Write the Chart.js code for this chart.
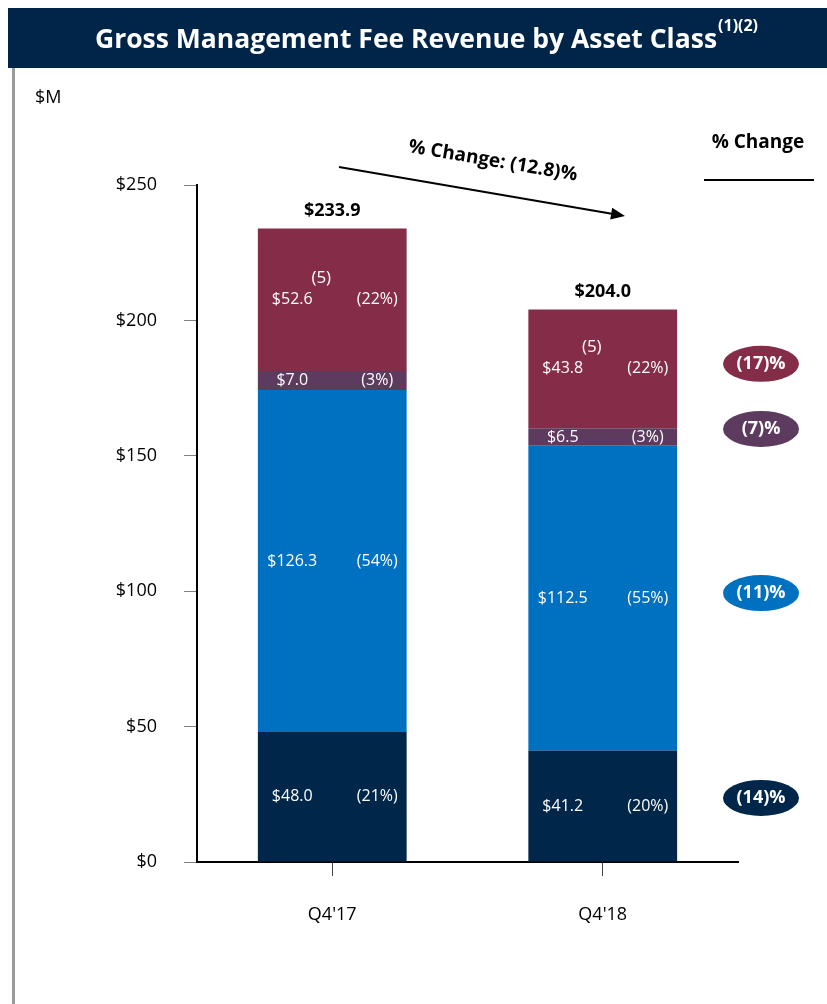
<!DOCTYPE html>
<html>
<head>
<meta charset="utf-8">
<script src="https://cdn.jsdelivr.net/npm/chart.js@4.4.0/dist/chart.umd.min.js"></script>
<style>
  html, body { margin: 0; padding: 0; background: #fff; }
  canvas { display: block; }
</style>
</head>
<body>
<canvas id="feeChart" width="827" height="1004"></canvas>
<script>
// Chart values
const categories = ["Q4'17", "Q4'18"];
const classA = [48.0, 41.2];     // bottom, navy
const classB = [126.3, 112.5];   // blue
const classC = [7.0, 6.5];       // purple
const classD = [52.6, 43.8];     // top, maroon
const sharesA = ['(21%)', '(20%)'];
const sharesB = ['(54%)', '(55%)'];
const sharesC = ['(3%)', '(3%)'];
const sharesD = ['(22%)', '(22%)'];
const totals = [233.9, 204.0];
const changes = ['(14)%', '(11)%', '(7)%', '(17)%'];
const totalChange = '% Change: (12.8)%';
const yTicks = [0, 50, 100, 150, 200, 250];

const colors = ['#00264a', '#0070c0', '#5c3b5f', '#852d48'];
const FONT = '"Open Sans", "DejaVu Sans", sans-serif';

const seriesData = [classA, classB, classC, classD];
const seriesShares = [sharesA, sharesB, sharesC, sharesD];

// everything drawn around the bars
const decorations = {
    id: 'decorations',
    beforeDraw(chart) {
        const c = chart.ctx;
        c.save();
        // title bar
        c.fillStyle = '#002548';
        c.fillRect(8, 8, 819, 60);
        c.fillStyle = '#fff';
        c.textBaseline = 'alphabetic';
        const main = 'Gross Management Fee Revenue by Asset Class';
        c.font = 'bold 26.5px ' + FONT;
        const w1 = c.measureText(main).width;
        c.font = 'bold 16px ' + FONT;
        const w2 = c.measureText('(1)(2)').width;
        const startX = 426 - (w1 + w2) / 2;
        c.font = 'bold 26.5px ' + FONT;
        c.textAlign = 'left';
        c.fillText(main, startX, 48);
        c.font = 'bold 16px ' + FONT;
        c.fillText('(1)(2)', startX + w1 + 1, 31);

        // left border
        c.fillStyle = '#9a9a9a';
        c.fillRect(12, 68, 3, 936);

        // $M
        c.fillStyle = '#000';
        c.font = '18px ' + FONT;
        c.textBaseline = 'middle';
        c.fillText('$M', 35, 98);

        // % Change header
        c.font = 'bold 19px ' + FONT;
        c.textAlign = 'center';
        c.fillText('% Change', 758, 143);
        c.fillRect(704, 179, 110, 2);
        c.restore();
    },
    afterDatasetsDraw(chart) {
        const c = chart.ctx;
        c.save();
        c.textBaseline = 'middle';
        c.textAlign = 'center';

        // segment labels
        chart.data.datasets.forEach((ds, di) => {
            const meta = chart.getDatasetMeta(di);
            meta.data.forEach((bar, i) => {
                const cy = (bar.y + bar.base) / 2;
                c.fillStyle = '#fff';
                c.font = '16px ' + FONT;
                c.fillText('$' + seriesData[di][i].toFixed(1), bar.x - 40, cy);
                c.fillText(seriesShares[di][i], bar.x + 45, cy);
                if (di === 3) {
                    c.font = '17px ' + FONT;
                    c.fillText('(5)', bar.x - 11, cy - 22);
                }
            });
        });

        // totals above bars
        const topMeta = chart.getDatasetMeta(3);
        c.fillStyle = '#000';
        c.font = 'bold 18px ' + FONT;
        topMeta.data.forEach((bar, i) => {
            c.fillText('$' + totals[i].toFixed(1), bar.x, bar.y - 18);
        });

        // change ovals, next to the last bar
        const ovalShift = [-8, -5, -8, -5];
        chart.data.datasets.forEach((ds, di) => {
            const bar = chart.getDatasetMeta(di).data[1];
            const cy = (bar.y + bar.base) / 2 + ovalShift[di];
            c.fillStyle = colors[di];
            c.beginPath();
            c.ellipse(761, cy, 38, 18, 0, 0, Math.PI * 2);
            c.fill();
            c.fillStyle = '#fff';
            c.font = 'bold 18px ' + FONT;
            c.fillText(changes[di], 761, cy);
        });

        // arrow with total change
        const x1 = 339, y1 = 167, x2 = 625, y2 = 216;
        const ang = Math.atan2(y2 - y1, x2 - x1);
        c.strokeStyle = '#000';
        c.lineWidth = 2;
        c.beginPath();
        c.moveTo(x1, y1);
        c.lineTo(x2 - 12 * Math.cos(ang), y2 - 12 * Math.sin(ang));
        c.stroke();
        c.fillStyle = '#000';
        c.beginPath();
        c.moveTo(x2, y2);
        c.lineTo(x2 - 14 * Math.cos(ang) + 6 * Math.sin(ang), y2 - 14 * Math.sin(ang) - 6 * Math.cos(ang));
        c.lineTo(x2 - 14 * Math.cos(ang) - 6 * Math.sin(ang), y2 - 14 * Math.sin(ang) + 6 * Math.cos(ang));
        c.closePath();
        c.fill();
        c.translate(493, 161);
        c.rotate(ang);
        c.font = 'bold 19px ' + FONT;
        c.fillText(totalChange, 0, 0);
        c.restore();
    }
};

const ctx = document.getElementById('feeChart').getContext('2d');
const chart = new Chart(ctx, {
    type: 'bar',
    data: {
        labels: categories,
        datasets: seriesData.map((d, i) => ({
            label: 'Asset class ' + (i + 1),
            data: d,
            backgroundColor: colors[i],
            borderWidth: 0,
            barPercentage: 0.55,
            categoryPercentage: 1.0
        }))
    },
    options: {
        responsive: false,
        animation: false,
        layout: { padding: { top: 185, right: 89, left: 0, bottom: 0 } },
        plugins: {
            legend: { display: false },
            tooltip: { enabled: false }
        },
        scales: {
            x: {
                stacked: true,
                afterFit: function(scale) { scale.height = 142; },
                border: { color: '#000', width: 2 },
                grid: {
                    offset: false,
                    drawOnChartArea: false,
                    tickLength: 14,
                    tickColor: '#444',
                    tickWidth: 1
                },
                ticks: {
                    padding: 28,
                    color: '#000',
                    font: { family: FONT, size: 18 }
                }
            },
            y: {
                stacked: true,
                min: 0,
                max: 250,
                afterFit: function(scale) { scale.width = 197; },
                afterBuildTicks: function(scale) {
                    scale.ticks = yTicks.map(v => ({ value: v }));
                },
                border: { color: '#000', width: 2 },
                grid: {
                    drawOnChartArea: false,
                    tickLength: 13,
                    tickColor: '#808080',
                    tickWidth: 1
                },
                ticks: {
                    padding: 27,
                    color: '#000',
                    font: { family: FONT, size: 18 },
                    callback: function(value) {
                        return '$' + value;
                    }
                }
            }
        }
    },
    plugins: [decorations]
});
</script>
</body>
</html>
